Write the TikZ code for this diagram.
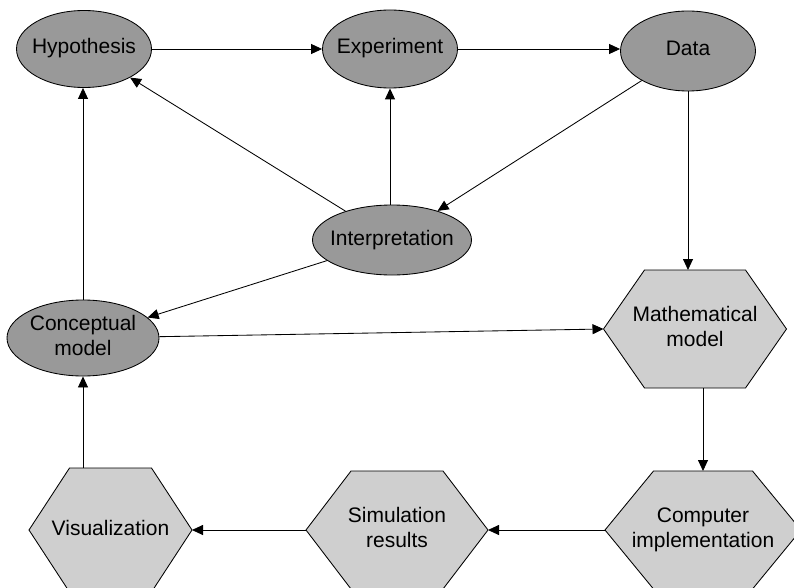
\documentclass[tikz,border=0pt]{standalone}
\usepackage{fontspec}
\setmainfont{Liberation Sans}
\usetikzlibrary{arrows.meta,shapes.geometric,calc}
\definecolor{ovalgray}{gray}{0.6}
\definecolor{hexgray}{gray}{0.81}
% centred text whose box has no width, so the shape size is set by hand
\newcommand\boxtext[1]{\makebox[0pt]{\raisebox{-1.5pt}{\begin{tabular}{@{}c@{}}#1\end{tabular}}}}
% hexagon: name, centre x, centre y, half width, half top edge, half height, text
\newcommand\hexagonbox[7]{%
  \coordinate (#1-l) at (#2-#4,#3);
  \coordinate (#1-r) at (#2+#4,#3);
  \coordinate (#1-t) at (#2,#3-#6);
  \coordinate (#1-b) at (#2,#3+#6);
  \draw[hexline] (#1-l) -- (#2-#5,#3-#6) -- (#2+#5,#3-#6) -- (#1-r)
    -- (#2+#5,#3+#6) -- (#2-#5,#3+#6) -- cycle;
  \node[hextext] (#1) at (#2,#3) {\boxtext{#7}};
}
\tikzset{
  oval/.style={ellipse, draw, fill=ovalgray, line width=0.85pt, inner sep=0pt},
  hexline/.style={draw, fill=hexgray, line width=0.85pt, line join=miter},
  hextext/.style={inner sep=0pt},
  arr/.style={-{Triangle[length=11pt,width=10pt]}, line width=0.85pt},
}
\begin{document}
\begin{tikzpicture}[x=1pt, y=-1pt, font=\fontsize{21}{25}\selectfont]
\useasboundingbox (0,0) rectangle (794,588);

% process boxes (hexagons)
\hexagonbox{math}{695}{329}{91.5}{50.5}{59}{Mathematical\\model}
\hexagonbox{comp}{703}{530}{98}{49.5}{59}{Computer\\implementation}
\hexagonbox{sim}{397}{530}{91}{46}{59}{Simulation\\results}
\hexagonbox{viz}{110.5}{530}{81.5}{41}{62}{Visualization}

% concepts (ellipses)
\node[oval, minimum width=135pt, minimum height=77pt] (hyp) at (84,49) {\boxtext{Hypothesis}};
\node[oval, minimum width=135pt, minimum height=78pt] (exp) at (390,49) {\boxtext{Experiment}};
\node[oval, minimum width=135pt, minimum height=80pt] (data) at (688,51) {\boxtext{Data}};
\node[oval, minimum width=159pt, minimum height=70pt] (interp) at (392,240) {\boxtext{Interpretation}};
\node[oval, minimum width=152pt, minimum height=76pt] (concept) at (83,338) {\boxtext{Conceptual\\model}};

% connectors
\draw[arr] (hyp.east) -- (hyp.east -| exp.west);
\draw[arr] (exp.east) -- (exp.east -| data.west);
\draw[arr] (interp) -- (hyp);
\draw[arr] (exp.south |- interp.north) -- (exp.south);
\draw[arr] (data) -- (interp);
\draw[arr] (data.south) -- (data.south |- math-t);
\draw[arr] (interp) -- (concept);
\draw[arr] (concept.north) -- (concept.north |- hyp.south);
\draw[arr] (concept) -- (math-l);
\draw[arr] (math-b -| comp-t) -- (comp-t);
\draw[arr] (comp-l) -- (sim-r);
\draw[arr] (sim-l) -- (viz-r);
\draw[arr] (viz-t -| concept.south) -- (concept.south);
\end{tikzpicture}
\end{document}
